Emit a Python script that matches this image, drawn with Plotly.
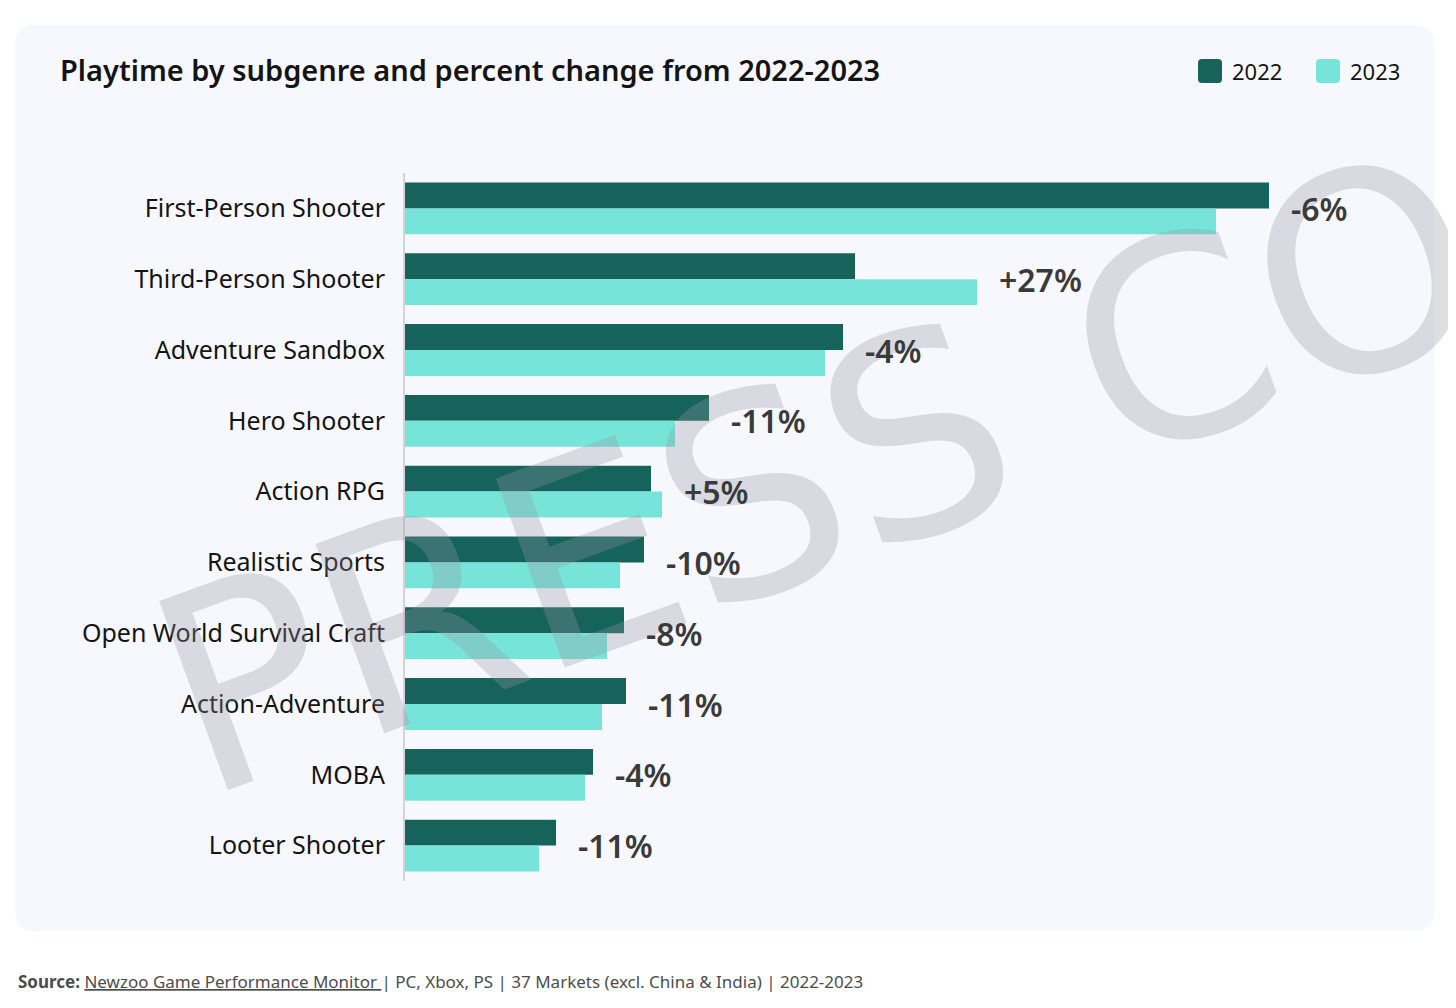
import plotly.graph_objects as go

# ---------------- data ----------------
categories = [
    "First-Person Shooter", "Third-Person Shooter", "Adventure Sandbox",
    "Hero Shooter", "Action RPG", "Realistic Sports",
    "Open World Survival Craft", "Action-Adventure", "MOBA", "Looter Shooter",
]
playtime_2022 = [864, 450, 438, 304, 246, 239, 219, 221, 188, 151]
playtime_2023 = [811, 572, 420, 270, 257, 215, 202, 197, 180, 134]
pct_change = ["-6%", "+27%", "-4%", "-11%", "+5%", "-10%", "-8%", "-11%", "-4%", "-11%"]
series_names = ["2022", "2023"]

# ---------------- style ----------------
OFF = 8  # page body margin in the browser
W, H = 1456 - OFF, 1008 - OFF
# plot area in page pixels
L, R, T, B = 405, 1405, 173, 881
C_2022 = "#16635c"
C_2023 = "#77e4da"
CARD = "#f7f8fd"
FONT = "Noto Sans"


def px(x):
    return (x - L) / (R - L)


def py(y):
    return (B - y) / (B - T)


def rounded_rect(x0, y0, x1, y1, r):
    pts = [
        f"M {px(x0 + r)},{py(y0)}",
        f"L {px(x1 - r)},{py(y0)}",
        f"Q {px(x1)},{py(y0)} {px(x1)},{py(y0 + r)}",
        f"L {px(x1)},{py(y1 - r)}",
        f"Q {px(x1)},{py(y1)} {px(x1 - r)},{py(y1)}",
        f"L {px(x0 + r)},{py(y1)}",
        f"Q {px(x0)},{py(y1)} {px(x0)},{py(y1 - r)}",
        f"L {px(x0)},{py(y0 + r)}",
        f"Q {px(x0)},{py(y0)} {px(x0 + r)},{py(y0)}",
        "Z",
    ]
    return " ".join(pts)


fig = go.Figure()
fig.add_trace(go.Bar(
    y=categories, x=playtime_2022, orientation="h", name=series_names[0],
    marker=dict(color=C_2022, line=dict(width=0)), showlegend=False,
    hoverinfo="x+y+name",
))
fig.add_trace(go.Bar(
    y=categories, x=playtime_2023, orientation="h", name=series_names[1],
    marker=dict(color=C_2023, line=dict(width=0)), showlegend=False,
    hoverinfo="x+y+name",
))

shapes = [
    dict(type="path", xref="paper", yref="paper",
         path=rounded_rect(15, 25, 1434, 931, 20),
         fillcolor=CARD, line=dict(width=0), layer="below"),
    dict(type="path", xref="paper", yref="paper",
         path=rounded_rect(1198, 59, 1222, 83, 4),
         fillcolor=C_2022, line=dict(width=0)),
    dict(type="path", xref="paper", yref="paper",
         path=rounded_rect(1316, 59, 1340, 83, 4),
         fillcolor=C_2023, line=dict(width=0)),
]

annotations = [
    # watermark
    dict(text="PRESS COPY", xref="paper", yref="paper", x=px(975), y=py(416),
         xanchor="center", yanchor="middle", showarrow=False, textangle=-20,
         font=dict(family="DejaVu Sans", size=276, color="rgba(150,150,162,0.30)")),
    # title
    dict(text="Playtime by subgenre and percent change from 2022-2023",
         xref="paper", yref="paper", x=px(58), y=py(69),
         xanchor="left", yanchor="middle", showarrow=False,
         font=dict(family=FONT, size=29, color="#141414", weight=600)),
    # legend labels
    dict(text=series_names[0], xref="paper", yref="paper", x=px(1230), y=py(71),
         xanchor="left", yanchor="middle", showarrow=False,
         font=dict(family=FONT, size=22, color="#141414")),
    dict(text=series_names[1], xref="paper", yref="paper", x=px(1348), y=py(71),
         xanchor="left", yanchor="middle", showarrow=False,
         font=dict(family=FONT, size=22, color="#141414")),
    # source
    dict(text="<b>Source:</b> <u>Newzoo Game Performance Monitor </u>| PC, Xbox, PS | "
              "37 Markets (excl. China &amp; India) | 2022-2023",
         xref="paper", yref="paper", x=px(16), y=py(981),
         xanchor="left", yanchor="middle", showarrow=False,
         font=dict(family=FONT, size=17, color="#4d4d4d")),
]

for cat, a, b, lab in zip(categories, playtime_2022, playtime_2023, pct_change):
    annotations.append(dict(
        text=lab, x=max(a, b), y=cat, xref="x", yref="y",
        xanchor="left", yanchor="middle", xshift=20, showarrow=False,
        font=dict(family=FONT, size=32, color="#3a3a3a", weight=600),
    ))

fig.update_layout(
    width=W, height=H,
    margin=dict(l=L - OFF, r=(1456 - R), t=T - OFF, b=(1008 - B), autoexpand=False),
    paper_bgcolor="white", plot_bgcolor="rgba(0,0,0,0)",
    barmode="group", bargap=0.268, bargroupgap=0,
    xaxis=dict(range=[0, 1000], visible=False, fixedrange=True),
    yaxis=dict(
        range=[len(categories) - 0.5, -0.5], showline=True, linecolor="#d3d4d9",
        linewidth=2, showgrid=False, zeroline=False, ticks="",
        ticklabelstandoff=13,
        tickfont=dict(family=FONT, size=25, color="#141414"),
    ),
    shapes=shapes, annotations=annotations,
)

fig.write_html("out.html")
